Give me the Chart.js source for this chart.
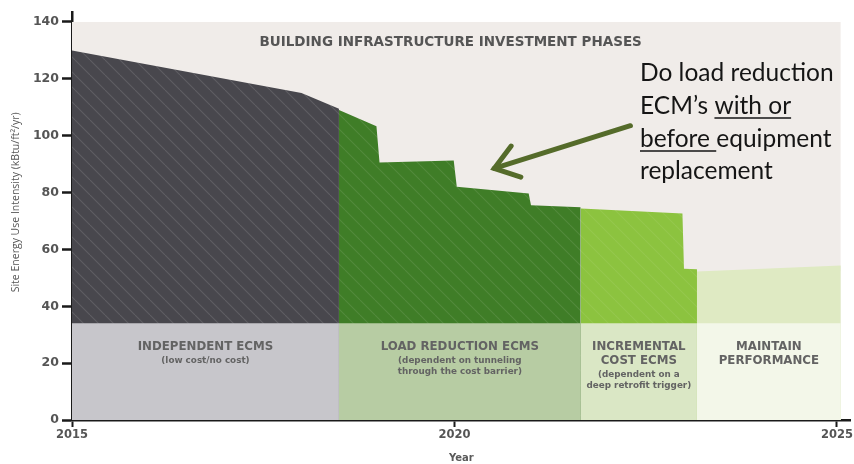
<!DOCTYPE html>
<html>
<head>
<meta charset="utf-8">
<script src="https://cdn.jsdelivr.net/npm/chart.js@4"></script>
<style>
  html, body { margin: 0; padding: 0; background: #fff; }
  #wrap { width: 854px; height: 464px; }
</style>
</head>
<body>
<div id="wrap"><canvas id="phase-chart"></canvas></div>
<script>
// phase bands along the bottom
const phaseStart = [2015, 2018.49, 2021.65, 2023.17];
const phaseEnd = [2018.49, 2021.65, 2023.17, 2025.05];
const bandTop = 34;
const phaseTitles = [
    ['INDEPENDENT ECMS'],
    ['LOAD REDUCTION ECMS'],
    ['INCREMENTAL', 'COST ECMS'],
    ['MAINTAIN', 'PERFORMANCE']
];
const phaseNotes = [
    ['(low cost/no cost)'],
    ['(dependent on tunneling', 'through the cost barrier)'],
    ['(dependent on a', 'deep retrofit trigger)'],
    []
];

// energy use intensity profile, one piece per phase
const independentX = [2015, 2018, 2018.49];
const independentY = [130, 115, 109.5];
const loadX = [2018.49, 2018.98, 2019.02, 2019.99, 2020.03, 2020.97, 2021.0, 2021.65];
const loadY = [109, 103.3, 90.6, 91.3, 82, 79.7, 75.5, 74.8];
const incrementalX = [2021.65, 2022.98, 2023.0, 2023.17];
const incrementalY = [74.4, 72.6, 53.2, 53];
const maintainX = [2023.17, 2025.05];
const maintainY = [52.2, 54.3];

const yTicks = [0, 20, 40, 60, 80, 100, 120, 140];
const xTicks = [2015, 2020, 2025];

const WIDE = 'DejaVu Sans';

function pts(xs, ys) {
    return xs.map((x, i) => ({ x: x, y: ys[i] }));
}

function hatch(base, line, alpha) {
    const c = document.createElement('canvas');
    c.width = 15; c.height = 15;
    const g = c.getContext('2d');
    g.fillStyle = base;
    g.fillRect(0, 0, 15, 15);
    g.strokeStyle = line;
    g.globalAlpha = alpha;
    g.lineWidth = 1.1;
    for (const o of [-15, 0, 15]) {
        g.beginPath();
        g.moveTo(o, 0);
        g.lineTo(o + 15, 15);
        g.stroke();
    }
    return g.createPattern(c, 'repeat');
}

const bandColors = ['#c7c6cb', '#b7cca3', '#dae7c5', '#f3f7e9'];

function area(data, color) {
    return { data: data, backgroundColor: color, fill: 'origin', borderWidth: 0, pointRadius: 0, tension: 0 };
}

const datasets = [];
for (let i = 0; i < phaseStart.length; i++) {
    datasets.push(area([{ x: phaseStart[i], y: bandTop }, { x: phaseEnd[i], y: bandTop }], bandColors[i]));
}
datasets.push(area(pts(independentX, independentY), hatch('#48474d', '#ffffff', 0.13)));
datasets.push(area(pts(loadX, loadY), hatch('#3f7d27', '#ffffff', 0.1)));
datasets.push(area(pts(incrementalX, incrementalY), hatch('#8cc33f', '#ffffff', 0.08)));
datasets.push(area(pts(maintainX, maintainY), '#dfeac3'));
datasets.push(area([{ x: 2015, y: 140 }, { x: 2025.05, y: 140 }], '#f0ece9'));

const labelsPlugin = {
    id: 'phaseLabels',
    afterDraw(chart) {
        const ctx = chart.ctx;
        const xs = chart.scales.x, ys = chart.scales.y;
        ctx.save();
        ctx.textAlign = 'center';
        ctx.textBaseline = 'middle';

        // header
        ctx.fillStyle = '#555';
        ctx.font = 'bold 13.5px "' + WIDE + '"';
        ctx.fillText('BUILDING INFRASTRUCTURE INVESTMENT PHASES', xs.getPixelForValue(2019.95), ys.getPixelForValue(132.6));

        // phase band captions
        for (let i = 0; i < phaseStart.length; i++) {
            const cx = xs.getPixelForValue((phaseStart[i] + phaseEnd[i]) / 2);
            let y = ys.getPixelForValue(25.6);
            ctx.fillStyle = '#636363';
            ctx.font = 'bold 11.8px "' + WIDE + '"';
            for (const t of phaseTitles[i]) {
                ctx.fillText(t, cx, y);
                y += 14;
            }
            ctx.font = 'bold 8.8px "' + WIDE + '"';
            y -= 1;
            for (const t of phaseNotes[i]) {
                ctx.fillText(t, cx, y);
                y += 11;
            }
        }

        // arrow
        const tipX = xs.getPixelForValue(2020.52), tipY = ys.getPixelForValue(88.5);
        const tailX = xs.getPixelForValue(2022.3), tailY = ys.getPixelForValue(103.5);
        ctx.strokeStyle = '#556b2a';
        ctx.lineWidth = 5;
        ctx.lineCap = 'round';
        ctx.beginPath();
        ctx.moveTo(tailX, tailY);
        ctx.lineTo(tipX, tipY);
        ctx.stroke();
        const ang = Math.atan2(tailY - tipY, tailX - tipX);
        ctx.beginPath();
        ctx.moveTo(tipX + 28 * Math.cos(ang - 0.62), tipY + 28 * Math.sin(ang - 0.62));
        ctx.lineTo(tipX, tipY);
        ctx.lineTo(tipX + 28 * Math.cos(ang + 0.62), tipY + 28 * Math.sin(ang + 0.62));
        ctx.stroke();

        // note text
        ctx.textAlign = 'left';
        ctx.textBaseline = 'alphabetic';
        ctx.fillStyle = '#151515';
        ctx.font = '24.5px Lato';
        const left = 640;
        const lines = [
            [['Do load reduction', false]],
            [['ECM\u2019s ', false], ['with or', true]],
            [['before ', true], ['equipment', false]],
            [['replacement', false]]
        ];
        const base = [81, 114, 147, 179];
        ctx.lineWidth = 1.6;
        ctx.strokeStyle = '#151515';
        ctx.lineCap = 'butt';
        lines.forEach((parts, li) => {
            let x = left;
            for (const [txt, under] of parts) {
                ctx.fillText(txt, x, base[li]);
                const w = ctx.measureText(txt).width;
                if (under) {
                    ctx.beginPath();
                    ctx.moveTo(x, base[li] + 4);
                    ctx.lineTo(x + w, base[li] + 4);
                    ctx.stroke();
                }
                x += w;
            }
        });
        ctx.restore();
    }
};

const ctx = document.getElementById('phase-chart');
ctx.chartInstance = new Chart(ctx, {
    type: 'line',
    data: { datasets: datasets },
    plugins: [labelsPlugin],
    options: {
        responsive: true,
        maintainAspectRatio: false,
        animation: false,
        layout: { padding: { top: 12, right: 2, left: 0, bottom: 0 } },
        plugins: { legend: { display: false }, tooltip: { enabled: false } },
        scales: {
            x: {
                type: 'linear',
                min: 2015,
                max: 2025.18,
                afterFit: function (scale) { scale.height = 44; },
                afterBuildTicks: function (scale) { scale.ticks = xTicks.map(v => ({ value: v })); },
                grid: { drawOnChartArea: false, tickLength: 7, tickColor: '#1a1a1a', tickWidth: 2 },
                border: { color: '#1a1a1a', width: 2.5 },
                ticks: {
                    color: '#555',
                    font: { family: WIDE, size: 11.5, weight: 'bold' },
                    padding: 1,
                    maxRotation: 0,
                    callback: function (value) { return String(value); }
                },
                title: {
                    display: true,
                    text: 'Year',
                    color: '#5a5a5a',
                    font: { family: WIDE, size: 10, weight: 'bold' },
                    padding: { top: 0, bottom: 0 }
                }
            },
            y: {
                min: 0,
                max: 143.5,
                afterFit: function (scale) { scale.width = 72; },
                afterBuildTicks: function (scale) { scale.ticks = yTicks.map(v => ({ value: v })); },
                grid: { drawOnChartArea: false, tickLength: 10, tickColor: '#1a1a1a', tickWidth: 2.5 },
                border: { color: '#1a1a1a', width: 2.5 },
                ticks: {
                    color: '#555',
                    font: { family: WIDE, size: 12.5, weight: 'bold' },
                    padding: 3
                },
                title: {
                    display: true,
                    text: '\u00a0\u00a0\u00a0\u00a0\u00a0\u00a0\u00a0\u00a0\u00a0\u00a0Site Energy Use Intensity (kBtu/ft\u00b2/yr)',
                    color: '#555',
                    font: { family: 'Open Sans', size: 10.5 },
                    padding: { top: 10, bottom: 0 }
                }
            }
        }
    }
});
</script>
</body>
</html>
